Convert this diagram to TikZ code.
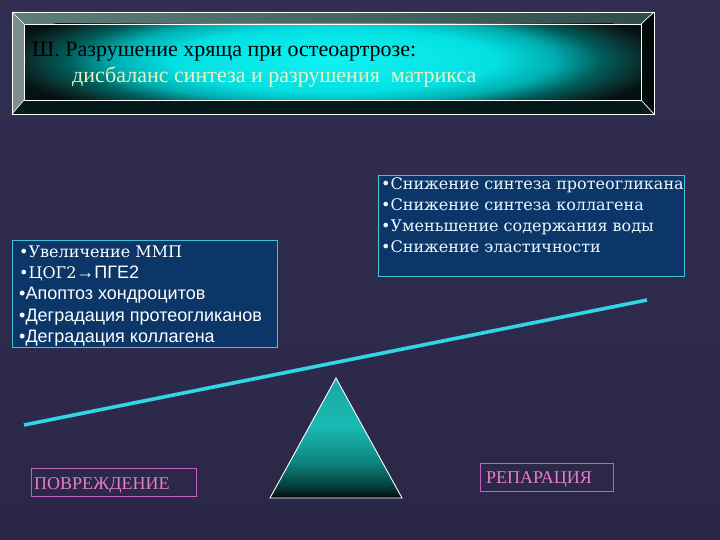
\documentclass[tikz,border=0pt]{standalone}
\usepackage{fontspec}
\setmainfont{Liberation Serif}
\newfontfamily\sansf{Liberation Sans}
\newfontfamily\dserif{DejaVu Serif}
\definecolor{bgtop}{HTML}{322E51}
\definecolor{bgbot}{HTML}{2A2747}
\definecolor{boxblue}{HTML}{0B3667}
\definecolor{boxedge}{HTML}{3FC3DA}
\definecolor{beamc}{HTML}{33D4E4}
\definecolor{pinkedge}{HTML}{C262C4}
\definecolor{pinktext}{HTML}{E47CCF}
\definecolor{cream}{HTML}{E6F2C8}
\definecolor{g0}{HTML}{10F2F2}
\definecolor{g1}{HTML}{04E0E2}
\definecolor{g2}{HTML}{00AEB0}
\definecolor{g3}{HTML}{005C5A}
\definecolor{g4}{HTML}{0A2C2A}
\definecolor{g5}{HTML}{031212}
\definecolor{bevtopL}{HTML}{5E7E7C}
\definecolor{bevtopM}{HTML}{6A8E8C}
\definecolor{bevtopR}{HTML}{2E4C4A}
\definecolor{bevleft}{HTML}{7C8E8C}
\definecolor{bevbot}{HTML}{041A1A}
\definecolor{bevbotM}{HTML}{123A38}
\definecolor{bevright}{HTML}{030A0A}
\definecolor{t0}{HTML}{000808}
\definecolor{t1}{HTML}{053E3C}
\definecolor{t2}{HTML}{0E8480}
\definecolor{t3}{HTML}{1BBAB4}
\definecolor{t4}{HTML}{18A8A2}
\pgfdeclareradialshading{titleglow}{\pgfpoint{0bp}{0bp}}{%
  color(0bp)=(g0); color(12bp)=(g1); color(16.5bp)=(g2); color(20bp)=(g3); color(23bp)=(g4); color(25bp)=(g5); color(50bp)=(g5)}
\pgfdeclareverticalshading{trishade}{100bp}{%
  color(0bp)=(t0); color(25bp)=(t0); color(30bp)=(t1); color(40bp)=(t2); color(55bp)=(t3); color(75bp)=(t4); color(100bp)=(t4)}
\tikzset{
  bluebox/.style={draw=boxedge, line width=0.9pt, fill=boxblue, anchor=north west, inner sep=0pt},
  pinkbox/.style={draw=pinkedge, line width=0.9pt, anchor=north west, inner sep=0pt},
  lsans/.style={anchor=base west, inner sep=0pt, text=white, font=\sansf\fontsize{18}{20}\selectfont},
  lserif/.style={anchor=base west, inner sep=0pt, text=white, font=\dserif\fontsize{16}{18}\selectfont},
  rserif/.style={anchor=base west, inner sep=0pt, text=white!92!cyan, font=\dserif\fontsize{16}{20}\selectfont},
  pinklabel/.style={anchor=base west, inner sep=0pt, text=pinktext, font=\fontsize{18}{20}\selectfont},
  titlefont/.style={anchor=base west, inner sep=0pt, font=\fontsize{22}{24}\selectfont},
  bevline/.style={draw=white, line width=0.7pt}
}
\begin{document}
\begin{tikzpicture}[x=1pt,y=-1pt]
\shade[top color=bgtop, bottom color=bgbot] (0,0) rectangle (720,540);
\useasboundingbox (0,0) rectangle (720,540);
% title frame
\coordinate (O1) at (12,12); \coordinate (O2) at (654,12);
\coordinate (O3) at (654,114); \coordinate (O4) at (12,114);
\coordinate (I1) at (24,24); \coordinate (I2) at (641,24);
\coordinate (I3) at (641,100); \coordinate (I4) at (24,100);
\shade[left color=bevtopL, middle color=bevtopM, right color=bevtopR] (O1) -- (O2) -- (I2) -- (I1) -- cycle;
\fill[bevleft] (O1) -- (I1) -- (I4) -- (O4) -- cycle;
\shade[left color=bevbot, middle color=bevbotM, right color=bevbot] (O4) -- (I4) -- (I3) -- (O3) -- cycle;
\fill[bevright] (O2) -- (O3) -- (I3) -- (I2) -- cycle;
\begin{scope}
  \clip (I1) rectangle (I3);
  \fill[g5] (I1) rectangle (I3);
  \shade[shading=titleglow] (334,60) ellipse [x radius=335, y radius=66];
\end{scope}
\draw[bevline] (O1) rectangle (O3);
\draw[bevline] (I1) rectangle (I3);
\draw[bevline] (O1) -- (I1) (O2) -- (I2) (O3) -- (I3) (O4) -- (I4);
\node[titlefont, text=black] (title1) at (32,57) {Ш. Разрушение хряща при остеоартрозе:};
\node[titlefont, text=cream] (title2) at (72,83) {дисбаланс синтеза и разрушения\ \ матрикса};
% left box
\node[bluebox, minimum width=265pt, minimum height=107pt] (lbox) at (12,240) {};
\node[lserif] (l1) at (19,257) {•Увеличение ММП};
\node[lserif] (l2) at (19,278) {•ЦОГ2{\sansf\fontsize{18}{20}\selectfont→ПГЕ2}};
\node[lsans] (l3) at (19,299.5) {•Апоптоз хондроцитов};
\node[lsans] (l4) at (19,321) {•Деградация протеогликанов};
\node[lsans] (l5) at (19,342.5) {•Деградация коллагена};
% right box
\node[bluebox, minimum width=306pt, minimum height=101pt] (rbox) at (378,175) {};
\node[rserif] (r1) at (381,190) {•Снижение синтеза протеогликана};
\node[rserif] (r2) at (381,210.5) {•Снижение синтеза коллагена};
\node[rserif] (r3) at (381,231.5) {•Уменьшение содержания воды};
\node[rserif] (r4) at (381,252.5) {•Снижение эластичности};
% beam
\coordinate (bL) at (24,425);
\coordinate (bR) at (647,300);
\draw[beamc, line width=3.6pt] (bL) -- (bR);
% fulcrum
\coordinate (apex) at (336,378);
\coordinate (tl) at (270,498);
\coordinate (tr) at (402,498);
\shade[shading=trishade] (apex) -- (tr) -- (tl) -- cycle;
\draw[white, line width=0.9pt, line join=miter] (apex) -- (tr) -- (tl) -- cycle;
% labels
\node[pinkbox, minimum width=165pt, minimum height=28pt] (dmgbox) at (31,468) {};
\node[pinklabel] (dmg) at (34,489) {ПОВРЕЖДЕНИЕ};
\node[pinkbox, minimum width=133pt, minimum height=28pt] (repbox) at (480,463) {};
\node[pinklabel] (rep) at (486,483) {РЕПАРАЦИЯ};
\end{tikzpicture}
\end{document}
